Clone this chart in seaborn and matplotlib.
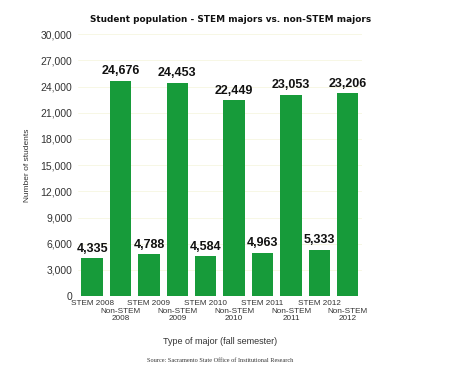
import matplotlib
matplotlib.use("Agg")
import matplotlib.pyplot as plt
import seaborn as sns
import pandas as pd

categories = ["STEM 2008", "Non-STEM\n2008", "STEM 2009", "Non-STEM\n2009",
              "STEM 2010", "Non-STEM\n2010", "STEM 2011", "Non-STEM\n2011",
              "STEM 2012", "Non-STEM\n2012"]
values = [4335, 24676, 4788, 24453, 4584, 22449, 4963, 23053, 5333, 23206]
yticks = [0, 3000, 6000, 9000, 12000, 15000, 18000, 21000, 24000, 27000, 30000]

sns.set_theme(style="white")
plt.rcParams['font.family'] = ['Liberation Sans', 'DejaVu Sans']

df = pd.DataFrame({"cat": categories, "val": values})
fig = plt.figure(figsize=(4.75, 3.67), dpi=100)
ax = fig.add_axes([0.164, 0.193, 0.598, 0.714])
sns.barplot(data=df, x="cat", y="val", color="#179b3a", saturation=1, width=0.75, ax=ax)
for p in ax.patches:
    p.set_facecolor("#179b3a")
    p.set_edgecolor("none")

ax.set_ylim(0, 30000)
ax.set_xlim(-0.5, 9.5)
ax.set_yticks(yticks)
ax.set_yticklabels([f"{t:,}" for t in yticks], fontsize=7.5, color="#333333")
ax.yaxis.grid(True, color="#f6f6e0", linewidth=0.6)
ax.set_axisbelow(True)
for s in ax.spines.values():
    s.set_visible(False)
ax.tick_params(axis="y", length=0, pad=4)
ax.tick_params(axis="x", length=0, pad=2.5)

ax.set_xticks(range(len(categories)))
labels = ax.set_xticklabels(categories, fontsize=5.9, color="#333333", linespacing=0.95)
for i, lab in enumerate(labels):
    if i % 2 == 1:
        lab.set_y(-0.031)
    else:
        lab.set_y(0.0)

for i, v in enumerate(values):
    ax.text(i, v + 400, f"{v:,}", ha="center", va="bottom", fontsize=9,
            fontweight="bold", color="#111111")

ax.set_xlabel("Type of major (fall semester)", fontsize=6.5, color="#333333", labelpad=11)
ax.set_ylabel("Number of students", fontsize=6, color="#333333", labelpad=7)

fig.text(0.486, 0.948, "Student population - STEM majors vs. non-STEM majors",
         ha="center", va="center", fontsize=6.4, fontweight="heavy", family="DejaVu Sans",
         color="#111111")
fig.text(0.464, 0.018, "Source: Sacramento State Office of Institutional Research",
         ha="center", va="center", fontsize=4.5, family="Liberation Serif", color="#333333")

fig.savefig("out.png", dpi=100, facecolor="white")
